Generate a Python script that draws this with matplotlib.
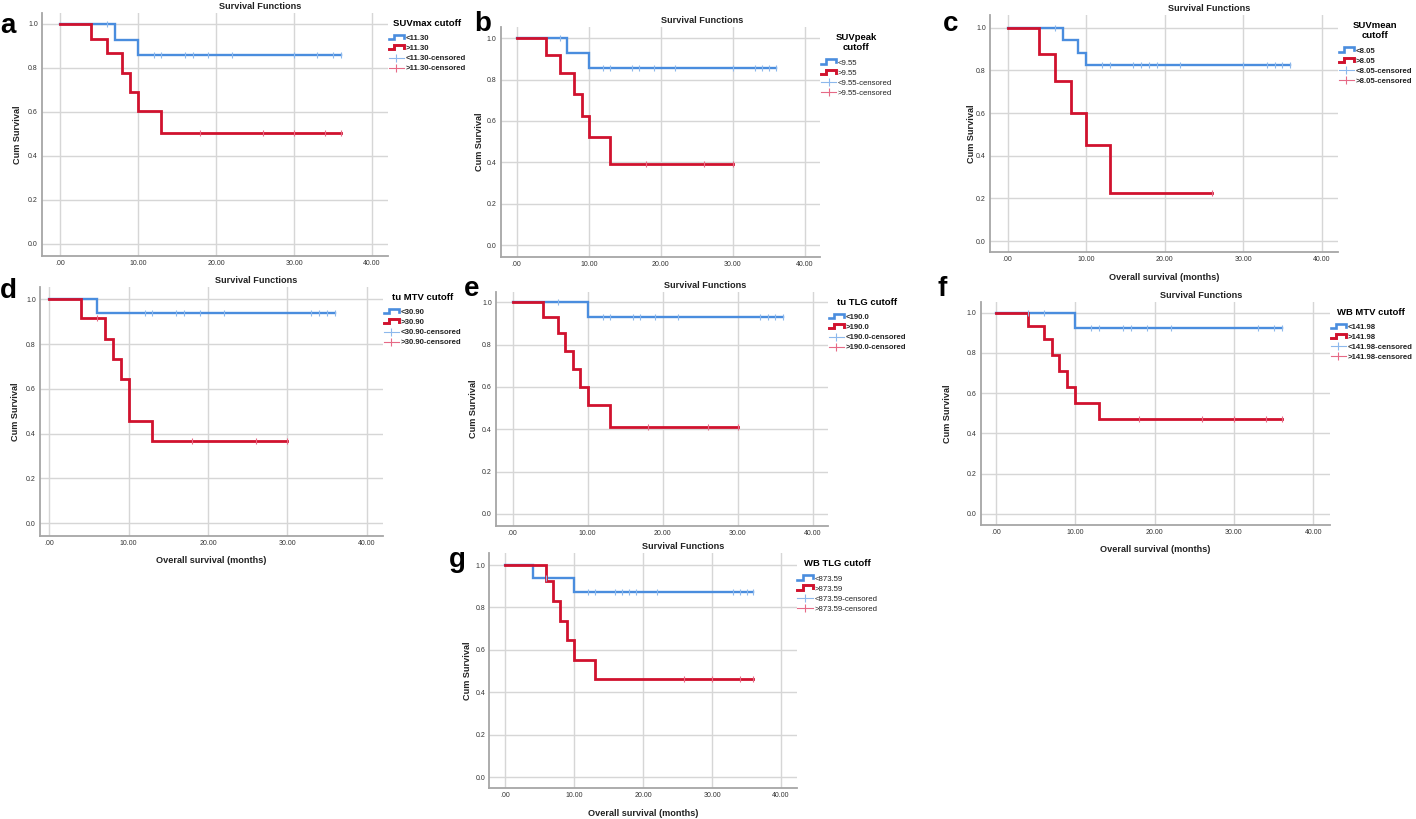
import numpy as np
import matplotlib
matplotlib.use("Agg")
import matplotlib.pyplot as plt
from matplotlib.lines import Line2D
from matplotlib.legend_handler import HandlerBase

plt.rcParams['font.family'] = ['Liberation Sans', 'DejaVu Sans']

# ---- data (months, cum survival) ----
a_low_t = [0, 7, 10]
a_low_s = [1.0, 0.929, 0.857]
a_low_c = [6, 12, 13, 16, 17, 19, 22, 30, 33, 35, 36]
a_high_t = [0, 4, 6, 8, 9, 10, 13]
a_high_s = [1.0, 0.933, 0.867, 0.776, 0.690, 0.603, 0.503]
a_high_c = [18, 26, 30, 34, 36]

b_low_t = [0, 7, 10]
b_low_s = [1.0, 0.929, 0.857]
b_low_c = [6, 12, 13, 16, 17, 19, 22, 30, 33, 34, 35, 36]
b_high_t = [0, 4, 6, 8, 9, 10, 13]
b_high_s = [1.0, 0.917, 0.833, 0.729, 0.625, 0.521, 0.391]
b_high_c = [18, 26, 30]

c_low_t = [0, 7, 9, 10]
c_low_s = [1.0, 0.941, 0.882, 0.824]
c_low_c = [6, 12, 13, 16, 17, 18, 19, 22, 30, 33, 34, 35, 36]
c_high_t = [0, 4, 6, 8, 10, 13]
c_high_s = [1.0, 0.875, 0.75, 0.6, 0.45, 0.225]
c_high_c = [26]

d_low_t = [0, 6]
d_low_s = [1.0, 0.941]
d_low_c = [12, 13, 16, 17, 19, 22, 33, 34, 35, 36]
d_high_t = [0, 4, 7, 8, 9, 10, 13]
d_high_s = [1.0, 0.917, 0.825, 0.733, 0.642, 0.458, 0.367]
d_high_c = [6, 18, 26, 30]

e_low_t = [0, 10]
e_low_s = [1.0, 0.929]
e_low_c = [6, 12, 13, 16, 17, 19, 22, 33, 34, 35, 36]
e_high_t = [0, 4, 6, 7, 8, 9, 10, 13]
e_high_s = [1.0, 0.929, 0.857, 0.771, 0.686, 0.6, 0.514, 0.411]
e_high_c = [18, 26, 30]

f_low_t = [0, 10]
f_low_s = [1.0, 0.923]
f_low_c = [4, 6, 12, 13, 16, 17, 19, 22, 33, 35, 36]
f_high_t = [0, 4, 6, 7, 8, 9, 10, 13]
f_high_s = [1.0, 0.933, 0.867, 0.788, 0.709, 0.630, 0.551, 0.472]
f_high_c = [18, 26, 30, 34, 36]

g_low_t = [0, 4, 10]
g_low_s = [1.0, 0.941, 0.875]
g_low_c = [6, 12, 13, 16, 17, 18, 19, 22, 33, 34, 35, 36]
g_high_t = [0, 6, 7, 8, 9, 10, 13]
g_high_s = [1.0, 0.923, 0.831, 0.738, 0.646, 0.554, 0.462]
g_high_c = [26, 30, 34, 36]

cutoffs = {'a': '11.30', 'b': '9.55', 'c': '8.05', 'd': '30.90',
           'e': '190.0', 'f': '141.98', 'g': '873.59'}
variables = {'a': 'SUVmax cutoff', 'b': 'SUVpeak\ncutoff', 'c': 'SUVmean\ncutoff',
             'd': 'tu MTV cutoff', 'e': 'tu TLG cutoff', 'f': 'WB MTV cutoff',
             'g': 'WB TLG cutoff'}
xticks = [0, 10, 20, 30, 40]
yticks = [0.0, 0.2, 0.4, 0.6, 0.8, 1.0]

curves = {
    'a': (a_low_t, a_low_s, a_low_c, a_high_t, a_high_s, a_high_c),
    'b': (b_low_t, b_low_s, b_low_c, b_high_t, b_high_s, b_high_c),
    'c': (c_low_t, c_low_s, c_low_c, c_high_t, c_high_s, c_high_c),
    'd': (d_low_t, d_low_s, d_low_c, d_high_t, d_high_s, d_high_c),
    'e': (e_low_t, e_low_s, e_low_c, e_high_t, e_high_s, e_high_c),
    'f': (f_low_t, f_low_s, f_low_c, f_high_t, f_high_s, f_high_c),
    'g': (g_low_t, g_low_s, g_low_c, g_high_t, g_high_s, g_high_c),
}

# ---- layout (pixels in the 1416x819 canvas) ----
W, H = 1416, 819
# spine left, right, top, bottom, px of x=0, px of x=40, px of y=1, px of y=0
geom = {
    'a': (42, 388, 13, 256, 60, 372, 24, 244),
    'b': (500.7, 820, 27, 257, 516.7, 805, 38.3, 245),
    'c': (990, 1338, 15, 252, 1007.7, 1321.7, 27.7, 241),
    'd': (40, 383, 287, 535.6, 49.3, 366.7, 299.3, 523.3),
    'e': (496, 828, 292, 526, 512.7, 812.7, 302.3, 514),
    'f': (980.7, 1330, 301.7, 525, 996, 1313.3, 312.7, 514),
    'g': (489.3, 796.7, 553.3, 788.3, 505, 781, 565, 777.3),
}
ylabel_px = {'a': 17, 'b': 479, 'c': 972, 'd': 15, 'e': 474, 'f': 947, 'g': 467}
letter_px = {'a': (0, 33), 'b': (474, 31), 'c': (943, 31), 'd': (0, 298),
             'e': (464, 296), 'f': (937, 296), 'g': (449, 567)}
with_xlabel = {'c', 'd', 'f', 'g'}
bold_legend = {'a', 'c', 'd', 'e', 'f'}

BLUE = '#4A8DDE'
RED = '#D0122E'
BLUE_C = '#8DB8EC'
RED_C = '#E66A86'


class StepIcon(HandlerBase):
    def create_artists(self, legend, orig_handle, xdescent, ydescent,
                       width, height, fontsize, trans):
        x0, y0 = -xdescent, -ydescent
        xs = [x0, x0 + 0.35 * width, x0 + 0.35 * width, x0 + width, x0 + width]
        ys = [y0 + 0.15 * height, y0 + 0.15 * height, y0 + 0.95 * height,
              y0 + 0.95 * height, y0 + 0.4 * height]
        ln = Line2D(xs, ys, color=orig_handle.get_color(),
                    lw=orig_handle.get_linewidth(), solid_joinstyle='miter')
        ln.set_transform(trans)
        return [ln]


def surv_at(times, surv, t):
    idx = np.searchsorted(times, t, side='right') - 1
    return np.asarray(surv)[idx]


def fmt_x(v):
    s = f"{v:.2f}"
    return s[1:] if s.startswith('0') else s


fig = plt.figure(figsize=(W / 100, H / 100), dpi=100)

for key in 'abcdefg':
    left, right, top, bottom, x0, x40, y1, y0 = geom[key]
    ax = fig.add_axes([left / W, 1 - bottom / H, (right - left) / W, (bottom - top) / H])
    sx = (x40 - x0) / 40.0
    sy = (y0 - y1)
    ax.set_xlim((left - x0) / sx, (right - x0) / sx)
    ax.set_ylim((y0 - bottom) / sy, (y0 - top) / sy)

    lt, ls, lc, ht, hs, hc = curves[key]
    for t, s, c, col, ccol, lw in [(lt, ls, lc, BLUE, BLUE_C, 1.7),
                                   (ht, hs, hc, RED, RED_C, 2.0)]:
        end = max(c)
        ax.step(t + [end], s + [s[-1]], where='post', color=col, lw=lw,
                zorder=3, solid_joinstyle='miter')
        ax.plot(c, surv_at(t, s, c), ls='none', marker='|', ms=4.5, mew=0.8,
                color=ccol, zorder=4)

    ax.set_xticks(xticks)
    ax.set_xticklabels([fmt_x(v) for v in xticks])
    ax.set_yticks(yticks)
    ax.set_yticklabels([f"{v:.1f}" for v in yticks])
    ax.tick_params(length=0, labelsize=5, labelcolor='#333333')
    ax.tick_params(axis='x', pad=3)
    ax.tick_params(axis='y', pad=3)
    ax.grid(True, color='#D6D6D6', lw=1.0, zorder=0)
    ax.set_axisbelow(True)
    for side in ('top', 'right'):
        ax.spines[side].set_visible(False)
    for side in ('left', 'bottom'):
        ax.spines[side].set_color('#A6A6A6')
        ax.spines[side].set_linewidth(1.3)

    wpx, hpx = right - left, bottom - top
    ax.set_title('Survival Functions', x=0.63, pad=3, fontsize=6.6,
                 fontweight='bold', color='#222222')
    ax.set_ylabel('Cum Survival', fontsize=6.6, fontweight='bold', color='#222222')
    ax.yaxis.set_label_coords((ylabel_px[key] + 4.5 - left) / wpx, 0.5)
    if key in with_xlabel:
        ax.set_xlabel('Overall survival (months)', fontsize=6.6,
                      fontweight='bold', color='#222222')
        ax.xaxis.set_label_coords(0.5, -20.5 / hpx)

    cut = cutoffs[key]
    h_low = Line2D([], [], color=BLUE, lw=1.9)
    h_high = Line2D([], [], color=RED, lw=2.1)
    h_lc = Line2D([], [], color=BLUE_C, lw=0.8, marker='|', ms=6, mew=0.8)
    h_hc = Line2D([], [], color=RED_C, lw=0.8, marker='|', ms=6, mew=0.8)
    leg = ax.legend([h_low, h_high, h_lc, h_hc],
                    ['<' + cut, '>' + cut, '<' + cut + '-censored', '>' + cut + '-censored'],
                    handler_map={h_low: StepIcon(), h_high: StepIcon()},
                    loc='upper left', bbox_to_anchor=(0.995, 1.0 - 3.5 / hpx),
                    borderaxespad=0.0, borderpad=0.3, frameon=False,
                    handlelength=2.0, handleheight=0.7, handletextpad=0.15,
                    labelspacing=0.34, numpoints=1, alignment='center',
                    prop={'size': 5.6, 'weight': 'bold' if key in bold_legend else 'normal'},
                    title=variables[key],
                    title_fontproperties={'size': 6.8, 'weight': 'bold'})
    leg.get_title().set_multialignment('center')
    leg._legend_box.sep = 5.0
    for txt in leg.get_texts():
        txt.set_color('#222222')

    lx, ly = letter_px[key]
    fig.text(lx / W, 1 - ly / H, key, fontsize=20, fontweight='bold',
             ha='left', va='baseline', color='black')

fig.savefig('out.png', dpi=100)
